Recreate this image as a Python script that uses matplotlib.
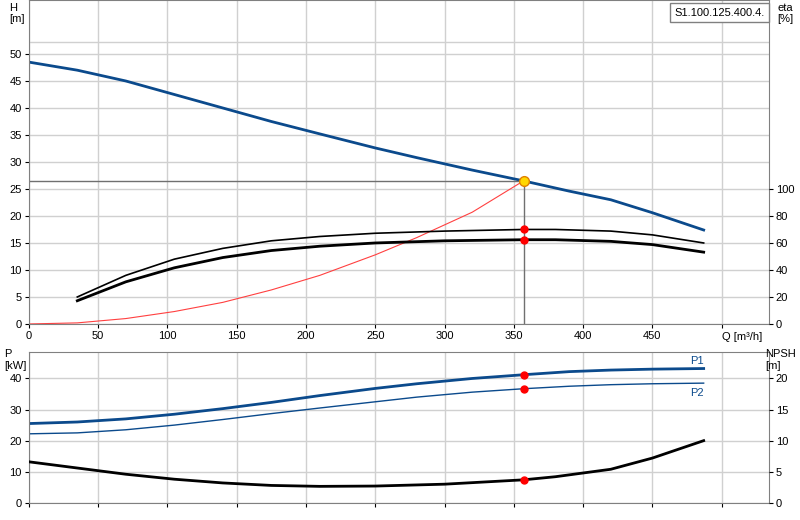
import numpy as np
import matplotlib.pyplot as plt

plt.rcParams['font.family'] = ['Liberation Sans', 'DejaVu Sans']
plt.rcParams['font.size'] = 8

# head curve
q_h = [0, 35, 70, 105, 140, 175, 210, 250, 280, 320, 357, 390, 420, 450, 487]
head = [48.5, 47, 45, 42.5, 40, 37.5, 35.2, 32.6, 30.8, 28.5, 26.5, 24.6, 23, 20.6, 17.4]

# efficiency curves (%)
q_eta = [35, 70, 105, 140, 175, 210, 250, 300, 357, 380, 420, 450, 487]
eta_a = [20, 36, 48, 56, 61.6, 64.8, 67.2, 68.8, 70, 70, 68.8, 66, 60]
eta_b = [17.2, 31.2, 41.6, 49.2, 54.4, 57.6, 60, 61.6, 62.4, 62.4, 61.2, 58.8, 53.2]

# system curve
q_sys = [0, 35, 70, 105, 140, 175, 210, 250, 280, 320, 357]
h_sys = [0, 0.2, 1, 2.3, 4, 6.3, 9, 12.8, 16, 20.7, 26.5]

# power
q_p = [0, 35, 70, 105, 140, 175, 210, 250, 280, 320, 357, 390, 420, 450, 487]
p1 = [25.5, 26, 27, 28.5, 30.3, 32.3, 34.5, 36.8, 38.3, 40, 41.2, 42.2, 42.7, 43, 43.2]
p2 = [22.2, 22.5, 23.5, 25, 26.8, 28.7, 30.5, 32.5, 34, 35.6, 36.7, 37.5, 38, 38.3, 38.5]

# NPSH
q_n = [0, 35, 70, 105, 140, 175, 210, 250, 300, 357, 380, 420, 450, 487]
npsh = [6.6, 5.6, 4.6, 3.8, 3.2, 2.8, 2.65, 2.7, 3.0, 3.7, 4.2, 5.4, 7.2, 10]

q_op, h_op = 357, 26.5
blue = '#0b4a8c'

fig = plt.figure(figsize=(8, 5.2), dpi=100)
ax = fig.add_axes([0.036, 0.377, 0.925, 0.623])
ax2 = ax.twinx()
bx = fig.add_axes([0.036, 0.033, 0.925, 0.290])
bx2 = bx.twinx()

for a in (ax, bx):
    a.set_xlim(0, 534)
    a.set_xticks(range(0, 501, 50))
    a.grid(True, color='#d0d0d0', lw=1)
    a.set_axisbelow(True)
    a.tick_params(length=3, pad=2)
    for s in a.spines.values():
        s.set_color('#808080')

ax.set_xticklabels([str(v) for v in range(0, 451, 50)] + [''])
bx.set_xticklabels([])
ax.set_ylim(0, 60)
ax.set_yticks(range(0, 51, 5))
ax.axhline(52.2, color='#d0d0d0', lw=1)
ax2.set_ylim(0, 240)
ax2.set_yticks(range(0, 101, 20))
bx.set_ylim(0, 48.5)
bx.set_yticks(range(0, 41, 10))
bx2.set_ylim(0, 24.25)
bx2.set_yticks(range(0, 21, 5))
for a in (ax2, bx2):
    a.tick_params(length=3, pad=2)
    for s in a.spines.values():
        s.set_visible(False)

ax.plot(q_h, head, color=blue, lw=2)
ax.plot([0, q_op], [h_op, h_op], color='#707070', lw=1)
ax.plot([q_op, q_op], [0, h_op], color='#707070', lw=1)
ax.plot(q_sys, h_sys, color='#ff4040', lw=0.8)
ax2.plot(q_eta, eta_a, color='black', lw=1.2)
ax2.plot(q_eta, eta_b, color='black', lw=2)
ax2.plot([q_op, q_op], [70, 62.4], 'o', color='red', ms=5)
ax.plot(q_op, h_op, 'o', color='#ffd700', mec='#e08000', ms=7)

bx.plot(q_p, p1, color=blue, lw=2)
bx.plot(q_p, p2, color=blue, lw=1)
bx2.plot(q_n, npsh, color='black', lw=2)
bx.plot([q_op, q_op], [41.2, 36.7], 'o', color='red', ms=5)
bx2.plot(q_op, 3.7, 'o', color='red', ms=5)
bx.text(487, 44.5, 'P1', color=blue, ha='right', fontsize=8)
bx.text(487, 34.5, 'P2', color=blue, ha='right', fontsize=8)

fig.text(0.012, 0.995, 'H\n[m]', ha='left', va='top', fontsize=8)
fig.text(0.972, 0.995, 'eta\n[%]', ha='left', va='top', fontsize=8)
fig.text(0.005, 0.328, 'P\n[kW]', ha='left', va='top', fontsize=8)
fig.text(0.957, 0.328, 'NPSH\n[m]', ha='left', va='top', fontsize=8)
fig.text(0.903, 0.352, 'Q [m³/h]', ha='left', va='center', fontsize=8)
fig.text(0.843, 0.985, 'S1.100.125.400.4.', ha='left', va='top', fontsize=8,
         bbox=dict(boxstyle='square,pad=0.4', fc='white', ec='#808080'))

fig.savefig('out.png', dpi=100)
